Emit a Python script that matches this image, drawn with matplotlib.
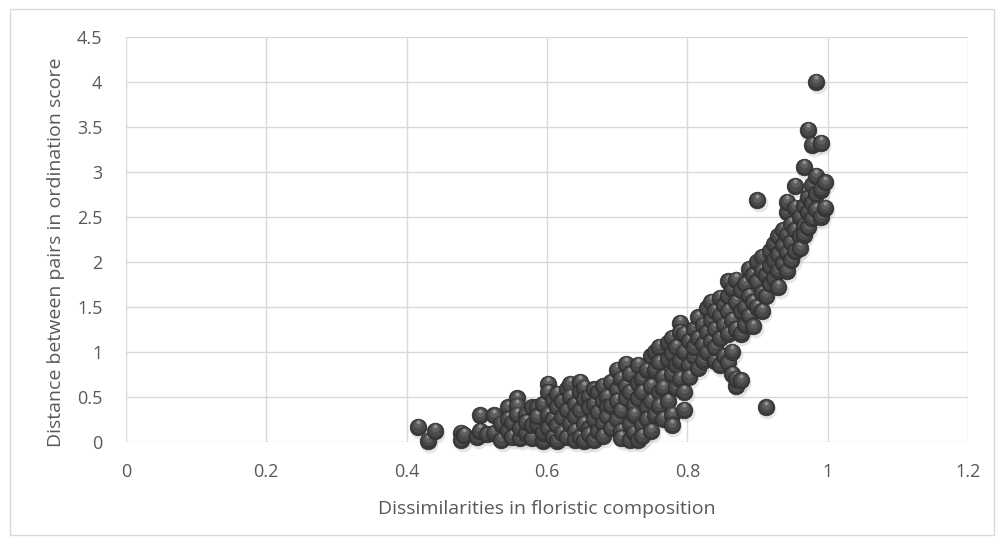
import matplotlib
matplotlib.use('Agg')
import matplotlib.pyplot as plt
from matplotlib.patches import Rectangle
from matplotlib.transforms import offset_copy

# values, grouped by x column
dissimilarity = [
    0.416, 0.430, 0.440,
    0.478, 0.478, 0.482, 0.500, 0.505, 0.505, 0.515,
    0.525, 0.525, 0.535, 0.535, 0.545, 0.545, 0.545, 0.550, 0.550,
    0.558, 0.558, 0.558, 0.562, 0.562, 0.570, 0.570, 0.570,
    0.578, 0.578, 0.578, 0.586, 0.586, 0.586, 0.594, 0.594, 0.594,
    0.601, 0.601, 0.601, 0.601, 0.608, 0.608, 0.608,
    0.614, 0.614, 0.614, 0.614, 0.622, 0.622, 0.622, 0.628, 0.628, 0.628,
    0.633, 0.633, 0.633, 0.640, 0.640, 0.640, 0.640,
    0.647, 0.647, 0.647, 0.647, 0.653, 0.653, 0.653, 0.653,
    0.660, 0.660, 0.660, 0.660, 0.667, 0.667, 0.667, 0.667,
    0.673, 0.673, 0.673, 0.680, 0.680, 0.680, 0.680, 0.686, 0.686, 0.686,
    0.692, 0.692, 0.692, 0.700, 0.700, 0.700, 0.700,
    0.706, 0.706, 0.706, 0.706, 0.712, 0.712, 0.712,
    0.718, 0.718, 0.718, 0.718, 0.724, 0.724, 0.724,
    0.730, 0.730, 0.730, 0.730, 0.736, 0.736, 0.736, 0.736,
    0.742, 0.742, 0.742, 0.748, 0.748, 0.748, 0.748,
    0.754, 0.754, 0.754, 0.760, 0.760, 0.760, 0.760, 0.766, 0.766, 0.766,
    0.772, 0.772, 0.772, 0.778, 0.778, 0.778, 0.778, 0.778,
    0.784, 0.784, 0.784, 0.790, 0.790, 0.790, 0.790,
    0.796, 0.796, 0.796, 0.796, 0.802, 0.802, 0.802,
    0.810, 0.810, 0.810, 0.816, 0.816, 0.816, 0.822, 0.822, 0.822,
    0.828, 0.828, 0.828, 0.834, 0.834, 0.834, 0.840, 0.840, 0.840, 0.840,
    0.846, 0.846, 0.846, 0.846, 0.852, 0.852, 0.852,
    0.858, 0.858, 0.858, 0.858, 0.858, 0.864, 0.864, 0.864, 0.864,
    0.870, 0.870, 0.870, 0.870, 0.870, 0.876, 0.876, 0.876, 0.876,
    0.882, 0.882, 0.882, 0.888, 0.888, 0.888, 0.894, 0.894, 0.894,
    0.900, 0.900, 0.900, 0.900, 0.906, 0.906, 0.906, 0.906,
    0.912, 0.912, 0.912, 0.918, 0.918, 0.918, 0.924, 0.924, 0.924,
    0.930, 0.930, 0.930, 0.930, 0.936, 0.936, 0.936,
    0.942, 0.942, 0.942, 0.942, 0.942, 0.948, 0.948, 0.948,
    0.954, 0.954, 0.954, 0.954, 0.960, 0.960, 0.960,
    0.966, 0.966, 0.966, 0.966, 0.972, 0.972, 0.972, 0.972,
    0.978, 0.978, 0.978, 0.978, 0.984, 0.984, 0.984, 0.984,
    0.990, 0.990, 0.990, 0.996, 0.996,
]
distance = [
    0.16, 0.01, 0.12,
    0.10, 0.02, 0.07, 0.05, 0.29, 0.12, 0.08,
    0.29, 0.10, 0.20, 0.02, 0.38, 0.25, 0.12, 0.21, 0.05,
    0.48, 0.40, 0.30, 0.04, 0.15, 0.30, 0.10, 0.22,
    0.38, 0.04, 0.18, 0.38, 0.20, 0.28, 0.42, 0.01, 0.10,
    0.64, 0.55, 0.30, 0.15, 0.46, 0.25, 0.05,
    0.53, 0.38, 0.01, 0.18, 0.45, 0.27, 0.10, 0.58, 0.35, 0.05,
    0.64, 0.50, 0.20, 0.42, 0.28, 0.12, 0.02,
    0.66, 0.55, 0.35, 0.05, 0.60, 0.47, 0.20, 0.01,
    0.50, 0.38, 0.15, 0.08, 0.58, 0.42, 0.25, 0.02,
    0.55, 0.33, 0.12, 0.62, 0.45, 0.20, 0.06, 0.50, 0.38, 0.28,
    0.66, 0.40, 0.15, 0.80, 0.58, 0.45, 0.25,
    0.70, 0.35, 0.12, 0.04, 0.86, 0.62, 0.48,
    0.75, 0.55, 0.20, 0.02, 0.40, 0.30, 0.10,
    0.85, 0.65, 0.48, 0.02, 0.70, 0.55, 0.18, 0.06,
    0.80, 0.38, 0.25, 0.95, 0.62, 0.45, 0.12,
    1.00, 0.80, 0.30, 1.05, 0.88, 0.55, 0.40, 0.72, 0.25, 0.60,
    1.10, 0.92, 0.45, 1.15, 0.98, 0.75, 0.30, 0.18,
    0.85, 0.60, 1.05, 1.32, 1.22, 0.90, 0.70,
    1.20, 1.00, 0.35, 0.55, 1.12, 0.85, 0.72,
    1.25, 0.95, 1.05, 1.38, 1.15, 0.82, 1.30, 1.08, 0.90,
    1.48, 1.22, 1.00, 1.55, 1.35, 1.12, 1.45, 1.25, 0.90, 1.05,
    1.60, 1.40, 1.15, 0.85, 1.52, 1.30, 0.95,
    1.78, 1.62, 1.45, 1.20, 0.88, 1.70, 1.35, 1.00, 0.75,
    1.80, 1.55, 1.25, 0.62, 0.70, 1.68, 1.45, 1.20, 0.68,
    1.75, 1.50, 1.30, 1.92, 1.62, 1.40, 1.85, 1.55, 1.28,
    2.00, 1.78, 1.50, 2.68, 2.05, 1.90, 1.65, 1.45,
    1.85, 1.62, 0.38, 2.12, 1.95, 1.75, 2.20, 2.02, 1.82,
    2.28, 2.08, 1.90, 1.72, 2.35, 2.18, 1.98,
    2.55, 2.30, 2.10, 1.90, 2.66, 2.42, 2.22, 2.02,
    2.84, 2.60, 2.35, 2.12, 2.50, 2.28, 2.15,
    3.05, 2.62, 2.40, 2.30, 3.46, 2.72, 2.55, 2.38,
    3.30, 2.85, 2.65, 2.48, 4.00, 2.95, 2.75, 2.58,
    3.32, 2.80, 2.50, 2.88, 2.60,
]

x_ticks = [0, 0.2, 0.4, 0.6, 0.8, 1, 1.2]
x_tick_labels = ['0', '0.2', '0.4', '0.6', '0.8', '1', '1.2']
y_ticks = [0, 0.5, 1, 1.5, 2, 2.5, 3, 3.5, 4, 4.5]
y_tick_labels = ['0', '0.5', '1', '1.5', '2', '2.5', '3', '3.5', '4', '4.5']

plt.rcParams['font.family'] = ['Open Sans', 'DejaVu Sans']
txt_col = '#595959'
grid_col = '#d9d9d9'

fig = plt.figure(figsize=(10.03, 5.44), dpi=100)
ax = fig.add_axes([0.1256, 0.1884, 0.8394, 0.7441])

# outer chart frame
fig.patches.append(Rectangle((10 / 1003, 9 / 544), 984 / 1003, 526 / 544,
                             transform=fig.transFigure, fill=False,
                             edgecolor=grid_col, lw=1))

# soft shadows under the balls
sh_tr = offset_copy(ax.transData, fig=fig, x=1.5, y=-3, units='dots')
ax.scatter(dissimilarity, distance, s=165, color='#b8b8b8', alpha=0.35,
           lw=0, transform=sh_tr, zorder=2, clip_on=False)

# shaded spheres, one point at a time so each ball keeps its own layers
t1 = offset_copy(ax.transData, fig=fig, x=0, y=1.2, units='dots')
t2 = offset_copy(ax.transData, fig=fig, x=0, y=2.8, units='dots')
t3 = offset_copy(ax.transData, fig=fig, x=0, y=4.8, units='dots')
for i, (xv, yv) in enumerate(zip(dissimilarity, distance)):
    z = 3 + i * 0.001
    ax.plot(xv, yv, 'o', ms=12, mfc='#393939', mec='#2c2c2c', mew=0.5,
            zorder=z, clip_on=False)
    ax.plot(xv, yv, 'o', ms=9.5, mfc='#4a4a4a', mew=0, transform=t1,
            zorder=z + 0.0002, clip_on=False)
    ax.plot(xv, yv, 'o', ms=6, mfc='#5f5f5f', mew=0, transform=t2,
            zorder=z + 0.0004, clip_on=False)
    ax.plot(xv, yv, 'o', ms=2.8, mfc='#969696', mew=0, alpha=0.9, transform=t3,
            zorder=z + 0.0006, clip_on=False)

ax.set_xlim(0, 1.2)
ax.set_ylim(0, 4.5)
ax.set_xticks(x_ticks)
ax.set_xticklabels(x_tick_labels)
ax.set_yticks(y_ticks)
ax.set_yticklabels(y_tick_labels)
ax.tick_params(length=0, labelsize=13, labelcolor=txt_col)
ax.tick_params(axis='x', pad=15.5)
ax.tick_params(axis='y', pad=17)
ax.grid(True, color=grid_col, lw=1)
ax.set_axisbelow(True)
for side in ['top', 'right', 'left', 'bottom']:
    ax.spines[side].set_visible(False)

ax.set_xlabel('Dissimilarities in floristic composition', fontsize=14,
              color=txt_col)
ax.set_ylabel('Distance between pairs in ordination score', fontsize=14,
              color=txt_col)
ax.xaxis.set_label_coords(0.5, -0.145)
ax.yaxis.set_label_coords(-0.073, 0.468)

fig.savefig('out.png', dpi=100)
